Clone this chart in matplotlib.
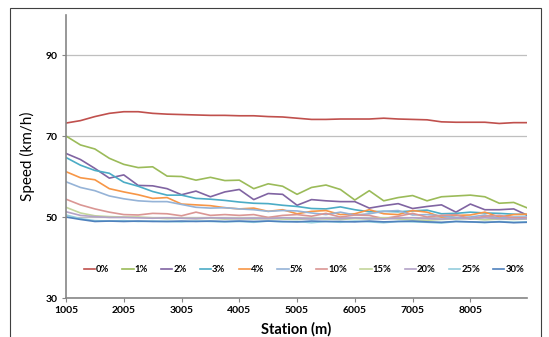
import matplotlib.pyplot as plt
from matplotlib.patches import Rectangle

# station (m)
stations = [1005, 1255, 1505, 1755, 2005, 2255, 2505, 2755, 3005, 3255, 3505,
            3755, 4005, 4255, 4505, 4755, 5005, 5255, 5505, 5755, 6005, 6255,
            6505, 6755, 7005, 7255, 7505, 7755, 8005, 8255, 8505, 8755, 8980]

grade_labels = ["0%", "1%", "2%", "3%", "4%", "5%", "10%", "15%", "20%", "25%", "30%"]

speed_0 = [73.2, 73.8, 74.8, 75.6, 76.0, 76.0, 75.6, 75.4, 75.3, 75.2, 75.1,
           75.1, 75.0, 75.0, 74.8, 74.7, 74.4, 74.1, 74.1, 74.2, 74.2, 74.2,
           74.4, 74.2, 74.1, 74.0, 73.5, 73.4, 73.4, 73.4, 73.1, 73.3, 73.3]
speed_1 = [70.0, 67.8, 66.8, 64.5, 63.0, 62.2, 62.4, 60.1, 60.0, 59.1, 59.8,
           59.0, 59.1, 57.0, 58.2, 57.6, 55.6, 57.3, 57.9, 56.8, 54.2, 56.5,
           54.0, 54.8, 55.3, 54.0, 55.0, 55.2, 55.4, 55.0, 53.4, 53.6, 52.3]
speed_2 = [65.7, 64.2, 62.0, 59.6, 60.4, 57.8, 57.7, 57.0, 55.5, 56.4, 55.0,
           56.2, 56.8, 54.3, 55.8, 55.6, 52.9, 54.3, 54.0, 53.8, 53.8, 52.2,
           52.8, 53.3, 52.1, 52.6, 53.0, 51.2, 53.2, 51.8, 51.8, 52.0, 50.5]
speed_3 = [64.7, 62.8, 61.5, 60.8, 58.6, 57.6, 56.3, 55.4, 55.4, 54.6, 54.4,
           54.1, 53.7, 53.4, 53.3, 52.9, 52.6, 52.1, 52.0, 52.5, 51.8, 51.3,
           51.4, 51.3, 51.5, 51.7, 50.8, 50.9, 51.2, 51.0, 50.9, 50.7, 50.6]
speed_4 = [61.2, 59.7, 59.2, 57.0, 56.2, 55.5, 54.6, 54.8, 53.2, 53.0, 52.8,
           52.3, 52.0, 52.2, 51.4, 51.8, 50.8, 51.4, 51.6, 50.6, 50.8, 51.8,
           50.8, 50.6, 51.6, 51.2, 50.0, 50.4, 50.5, 51.2, 50.0, 50.6, 50.7]
speed_5 = [58.7, 57.3, 56.5, 55.2, 54.5, 54.0, 53.8, 53.8, 53.1, 52.4, 52.2,
           52.3, 52.0, 51.8, 51.4, 51.6, 51.5, 51.0, 50.6, 51.2, 50.5, 50.8,
           51.4, 51.6, 50.5, 50.6, 50.3, 49.9, 50.0, 50.5, 49.7, 50.0, 50.0]
speed_10 = [54.4, 53.0, 52.0, 51.2, 50.6, 50.5, 50.9, 50.8, 50.3, 51.2, 50.4,
            50.6, 50.4, 50.6, 49.9, 50.4, 50.6, 50.2, 50.9, 50.0, 50.5, 50.4,
            49.6, 50.2, 50.9, 50.0, 50.4, 50.6, 49.5, 50.2, 50.4, 49.8, 49.8]
speed_15 = [52.4, 51.0, 50.3, 50.1, 50.0, 50.0, 49.8, 49.6, 49.7, 49.6, 49.7,
            49.5, 49.6, 49.5, 49.6, 49.5, 49.4, 49.6, 49.5, 49.4, 49.6, 49.5,
            49.8, 49.5, 49.3, 49.2, 49.4, 49.5, 49.6, 49.3, 49.5, 49.4, 49.5]
speed_20 = [51.3, 50.4, 50.1, 49.9, 49.9, 49.8, 49.7, 49.8, 49.7, 49.6, 49.8,
            49.7, 49.6, 49.7, 49.6, 49.8, 49.7, 49.5, 49.7, 49.6, 49.8, 49.6,
            49.5, 49.7, 49.8, 49.6, 49.5, 49.7, 49.6, 49.8, 49.6, 49.5, 49.6]
speed_25 = [50.5, 49.6, 49.1, 49.0, 49.1, 48.9, 49.0, 48.9, 48.8, 49.0, 48.9,
            48.8, 48.9, 48.7, 49.0, 48.8, 48.9, 48.6, 48.9, 48.7, 49.0, 48.8,
            48.6, 48.9, 48.8, 48.7, 48.5, 48.9, 48.8, 48.6, 48.9, 48.7, 48.8]
speed_30 = [50.0, 49.4, 48.9, 49.0, 48.9, 49.0, 48.9, 48.9, 49.0, 48.9, 49.0,
            48.9, 49.0, 48.9, 49.0, 48.9, 48.8, 49.0, 48.9, 48.9, 48.8, 49.0,
            48.8, 48.9, 49.0, 48.8, 48.7, 48.9, 48.8, 48.7, 48.8, 48.6, 48.7]

all_speeds = [speed_0, speed_1, speed_2, speed_3, speed_4, speed_5,
              speed_10, speed_15, speed_20, speed_25, speed_30]
colors = ["#C0504D", "#9BBB59", "#8064A2", "#4BACC6", "#F79646", "#95B3D7",
          "#DA9694", "#C3D69B", "#B3A2C7", "#93CDDD", "#4F81BD"]

plt.rcParams['font.family'] = ['Lato', 'DejaVu Sans']

fig = plt.figure(figsize=(5.49, 3.37), dpi=100)
ax = fig.add_axes([0.1202, 0.1157, 0.8397, 0.8412])

# outer chart border
fig.patches.append(Rectangle((0.019, -0.02), 0.967, 0.996, transform=fig.transFigure,
                             fill=False, edgecolor="#404040", linewidth=0.8))

for label, speeds, c in zip(grade_labels, all_speeds, colors):
    ax.plot(stations, speeds, color=c, linewidth=1.2, label=label)

ax.set_xlim(1005, 8985)
ax.set_ylim(30, 100)
ax.set_yticks([30, 50, 70, 90])
ax.set_xticks(range(1005, 8006, 1000))
ax.grid(axis='y', color="#BFBFBF", linewidth=0.9)
ax.set_axisbelow(True)

for s in ['top', 'right']:
    ax.spines[s].set_visible(False)
for s in ['left', 'bottom']:
    ax.spines[s].set_color("#868686")
    ax.spines[s].set_linewidth(1.2)
ax.tick_params(axis='both', length=3, color="#868686", labelsize=7.5, pad=3)
for t in ax.get_xticklabels() + ax.get_yticklabels():
    t.set_fontweight('bold')

ax.set_ylabel("Speed (km/h)", fontsize=11, labelpad=8)
ax.set_xlabel("Station (m)", fontsize=10.5, fontweight='bold', labelpad=5)

leg = ax.legend(loc='center', bbox_to_anchor=(0.516, 0.099), ncol=11, frameon=False,
                handlelength=1.2, handletextpad=0.1, columnspacing=1.4,
                prop={'size': 6.8, 'weight': 'bold'})

fig.savefig("out.png", dpi=100)
